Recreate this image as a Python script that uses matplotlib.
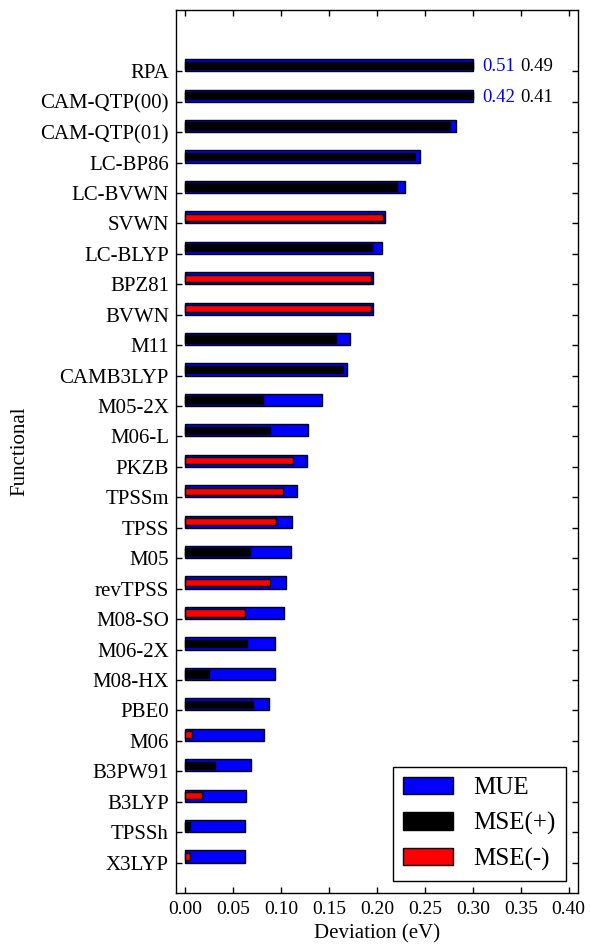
import numpy as np
import matplotlib as mpl
mpl.use("Agg")
import matplotlib.pyplot as plt
from matplotlib.patches import Patch

mpl.rcParams.update({
    "font.family": "serif",
    "font.serif": ["Liberation Serif", "DejaVu Serif"],
    "axes.linewidth": 1.0,
    "xtick.direction": "in",
    "ytick.direction": "in",
    "xtick.top": True,
    "ytick.right": True,
    "xtick.major.size": 4.5,
    "ytick.major.size": 4.5,
    "xtick.major.width": 1.0,
    "ytick.major.width": 1.0,
})

# functionals, listed top to bottom
functionals = [
    "RPA", "CAM-QTP(00)", "CAM-QTP(01)", "LC-BP86", "LC-BVWN", "SVWN",
    "LC-BLYP", "BPZ81", "BVWN", "M11", "CAMB3LYP", "M05-2X", "M06-L",
    "PKZB", "TPSSm", "TPSS", "M05", "revTPSS", "M08-SO", "M06-2X",
    "M08-HX", "PBE0", "M06", "B3PW91", "B3LYP", "TPSSh", "X3LYP",
]
# mean unsigned error (eV)
mue = [
    0.51, 0.42, 0.282, 0.245, 0.229, 0.208,
    0.205, 0.196, 0.196, 0.172, 0.169, 0.143, 0.128,
    0.127, 0.117, 0.111, 0.110, 0.105, 0.103, 0.094,
    0.094, 0.087, 0.082, 0.068, 0.063, 0.062, 0.062,
]
# mean signed error (eV)
mse = [
    0.49, 0.41, 0.276, 0.240, 0.221, -0.206,
    0.195, -0.194, -0.194, 0.157, 0.164, 0.081, 0.088,
    -0.112, -0.102, -0.095, 0.067, -0.088, -0.062, 0.064,
    0.025, 0.071, -0.007, 0.031, -0.017, 0.005, -0.005,
]
x_ticks = [0.00, 0.05, 0.10, 0.15, 0.20, 0.25, 0.30, 0.35, 0.40]

BAR_CAP = 0.30  # longer bars are cut here and their values printed

mue = np.array(mue)
mse = np.array(mse)
n = len(functionals)
ypos = np.arange(n)[::-1]

fig = plt.figure(figsize=(5.9, 9.46), dpi=100)
ax = fig.add_axes([0.298, 0.056, 0.682, 0.933])

ax.barh(ypos, np.minimum(mue, BAR_CAP), height=0.4, align="edge",
        color="#0000ff", edgecolor="black", lw=1.0)
inner_col = np.where(mse >= 0, "black", "#ff0000")
ax.barh(ypos + 0.08, np.minimum(np.abs(mse), BAR_CAP), height=0.24,
        align="edge", color=inner_col, edgecolor="black", lw=1.0)

# values for the truncated bars
for y, u, s in zip(ypos, mue, mse):
    if u > BAR_CAP:
        ax.text(0.31, y + 0.15, f"{u:.2f}", color="#0000ff",
                fontsize=13.5, ha="left", va="center")
        ax.text(0.35, y + 0.15, f"{abs(s):.2f}", color="black",
                fontsize=13.5, ha="left", va="center")

ax.set_xlim(-0.01, 0.41)
ax.set_ylim(-1, 28)
ax.set_xticks(x_ticks)
ax.set_xticklabels([f"{v:.2f}" for v in x_ticks], fontsize=14)
ax.set_yticks(ypos)
ax.set_yticklabels(functionals, fontsize=15)
ax.tick_params(axis="y", pad=5)
ax.tick_params(axis="x", pad=6)
ax.set_xlabel("Deviation (eV)", fontsize=15, labelpad=4)
ax.set_ylabel("Functional", fontsize=15, labelpad=8)

handles = [
    Patch(facecolor="#0000ff", edgecolor="black", label="MUE"),
    Patch(facecolor="black", edgecolor="black", label="MSE(+)"),
    Patch(facecolor="#ff0000", edgecolor="black", label="MSE(-)"),
]
leg = ax.legend(handles=handles, loc="lower right", fontsize=18,
                fancybox=False, framealpha=1, edgecolor="black")
leg.get_frame().set_linewidth(1.0)

fig.savefig("out.png", dpi=100)
